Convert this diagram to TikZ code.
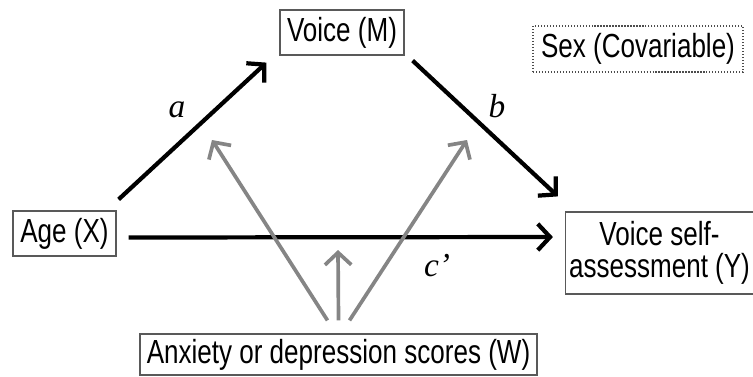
\documentclass[tikz,border=0pt]{standalone}
\usepackage{fontspec}
\setmainfont{Liberation Sans}[FakeStretch=0.78]
\newfontfamily\labfont{Liberation Serif}
\usetikzlibrary{arrows.meta, positioning}

\begin{document}
\begin{tikzpicture}[x=0.02cm, y=-0.02cm,
    box/.style={draw=black!65, line width=0.7pt, align=center, inner sep=2pt,
                font=\fontsize{19}{18}\selectfont},
    covbox/.style={box, draw=black!70, densely dotted},
    arr/.style={->, line width=2.4pt, black},
    modarr/.style={->, line width=2.1pt, black!48},
    lab/.style={font=\labfont\itshape\fontsize{19}{20}\selectfont},
    >={Straight Barb[length=7pt, width=15pt]}
  ]
    \useasboundingbox (0,0) rectangle (753,376);

    \node[box, minimum width=2.48cm, minimum height=0.9cm] (voice) at (342,32.5) {Voice (M)};
    \node[covbox, minimum width=4.2cm, minimum height=0.92cm] (sex) at (638,49) {Sex (Covariable)};
    \node[box, minimum width=2.06cm, minimum height=0.9cm] (age) at (64.5,233.5) {Age (X)};
    \node[box, minimum width=3.7cm, minimum height=1.64cm] (selfass) at (659.5,253) {Voice self-\\assessment (Y)};
    \node[box, minimum width=7.94cm, minimum height=0.82cm] (anx) at (338.5,354.5) {Anxiety or depression scores (W)};

    \node[lab] (la) at (177,110) {a};
    \node[lab] (lb) at (497,106) {b};
    \node[lab] (lc) at (437,266) {c’};

    \coordinate (wa) at (212,140);
    \coordinate (wc) at (338,250);
    \coordinate (wb) at (467,140);

    \draw[arr] ([shift={(2,-11)}]age.north east) -- ([shift={(-13,7)}]voice.south west);
    \draw[arr] ([shift={(8,5)}]voice.south east) -- ([shift={(-7,-15)}]selfass.north west);
    \draw[arr] ([shift={(12,4)}]age.east) -- ([shift={(-12,-16)}]selfass.west);

    \draw[modarr] ([shift={(-11,-13)}]anx.north) -- (wa);
    \draw[modarr] ([shift={(0,-13)}]anx.north) -- (wc);
    \draw[modarr] ([shift={(11,-13)}]anx.north) -- (wb);
  \end{tikzpicture}
\end{document}
